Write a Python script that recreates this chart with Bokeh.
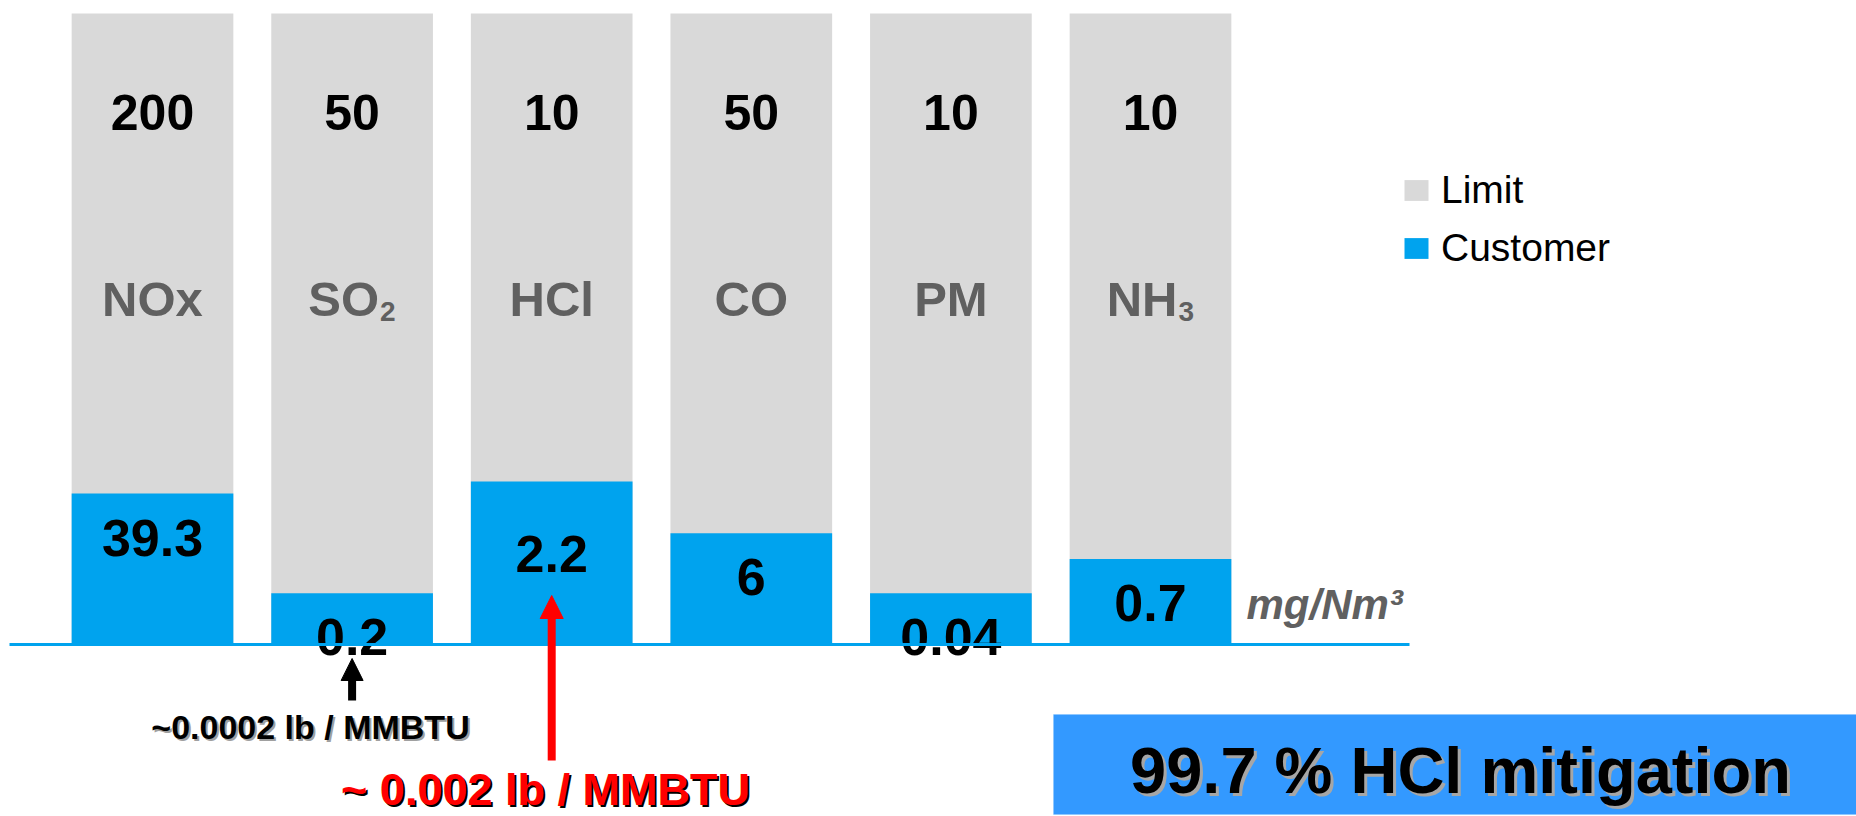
from bokeh.plotting import figure
from bokeh.models import (ColumnDataSource, Range1d, Legend, LegendItem, Label,
                          Arrow, NormalHead, BoxAnnotation)
from bokeh.core.properties import value
from bokeh.embed import file_html
from bokeh.resources import INLINE

# Emission limits and measured customer values, mg/Nm3
pollutants = ["NOx", "SO₂", "HCl", "CO", "PM", "NH₃"]
limit_values = [200, 50, 10, 50, 10, 10]
customer_values = [39.3, 0.2, 2.2, 6, 0.04, 0.7]

# Page geometry (pixels)
W, H = 1856, 816
BAR_BOTTOM_PX = 644          # baseline row
BAR_TOP_PX = 13              # top of the limit bars
FIRST_CENTER_PX = 152
PITCH_PX = 199.6
UNIT_PX = BAR_BOTTOM_PX - BAR_TOP_PX

# Customer blocks are drawn as a share of the limit; a floor keeps room
# for the value label on the smallest readings.
FLOOR, SPAN = 0.078, 0.82

FONT_NAME = "Liberation Sans"
FONT = value(FONT_NAME)
GREY = "#D9D9D9"
BLUE = "#00A3EE"
NAME_GREY = "#606060"

SUBSCRIPTS = {"₂": "2", "₃": "3"}


def px_x(px):
    return (px - FIRST_CENTER_PX) / PITCH_PX


def px_y(py):
    return (BAR_BOTTOM_PX - py) / UNIT_PX


def split_formula(name):
    """Split a trailing subscript digit off a formula such as 'SO₂'."""
    if name and name[-1] in SUBSCRIPTS:
        return name[:-1], SUBSCRIPTS[name[-1]]
    return name, ""


idx = list(range(len(pollutants)))
shares = [c / l for c, l in zip(customer_values, limit_values)]
src = ColumnDataSource(dict(
    x=idx,
    limit_top=[l / l for l in limit_values],
    cust_top=[FLOOR + SPAN * s for s in shares],
    limit_label=["{:g}".format(v) for v in limit_values],
    cust_label=["{:g}".format(v) for v in customer_values],
    cust_drop=[44, 44, 73, 44, 44, 44],
))

parts = [split_formula(n) for n in pollutants]
plain = ColumnDataSource(dict(
    x=[i for i, (m, s) in zip(idx, parts) if not s],
    top=[1.0 for m, s in parts if not s],
    name=[m for m, s in parts if not s],
))
formula = ColumnDataSource(dict(
    x=[i for i, (m, s) in zip(idx, parts) if s],
    top=[1.0 for m, s in parts if s],
    name=[m for m, s in parts if s],
    sub=[s for m, s in parts if s],
))

p = figure(width=W, height=H, output_backend="svg", toolbar_location=None,
           x_range=Range1d(px_x(0), px_x(W)),
           y_range=Range1d(px_y(H), px_y(0)),
           x_axis_location=None, y_axis_location=None,
           min_border=0, outline_line_color=None)
p.grid.visible = False

limit_r = p.vbar(x="x", width=0.81, bottom=0, top="limit_top", source=src,
                 fill_color=GREY, line_color=None)
cust_r = p.vbar(x="x", width=0.81, bottom=0, top="cust_top", source=src,
                fill_color=BLUE, line_color=None)

# limit values inside the grey bars
p.text(x="x", y="limit_top", text="limit_label", source=src, y_offset=99,
       text_align="center", text_baseline="alphabetic", text_font=FONT,
       text_font_style="bold", text_font_size="50px", text_color="black")

# pollutant names
name_style = dict(text_baseline="alphabetic", text_font=FONT, text_font_style="bold",
                  text_color=NAME_GREY)
p.text(x="x", y="top", text="name", source=plain, y_offset=285,
       text_align="center", text_font_size="49px", **name_style)
p.text(x="x", y="top", text="name", source=formula, y_offset=285, x_offset=27,
       text_align="right", text_font_size="49px", **name_style)
p.text(x="x", y="top", text="sub", source=formula, y_offset=298, x_offset=28,
       text_align="left", text_font_size="28px", **name_style)

# customer values inside the blue blocks
p.text(x="x", y="cust_top", text="cust_label", source=src, y_offset="cust_drop",
       text_align="center", text_baseline="alphabetic", text_font=FONT,
       text_font_style="bold", text_font_size="52px", text_color="black")

# baseline
p.segment(x0=px_x(9), y0=0, x1=px_x(1409), y1=0, line_color=BLUE, line_width=3)

legend = Legend(items=[LegendItem(label="Limit", renderers=[limit_r]),
                       LegendItem(label="Customer", renderers=[cust_r])],
                location=(1401, H - 270), orientation="vertical",
                glyph_width=30, glyph_height=26, label_standoff=10,
                label_text_font=FONT_NAME, label_text_font_size="39px",
                label_text_color="black", spacing=14, padding=0, margin=0,
                border_line_color=None, background_fill_alpha=0)
p.add_layout(legend)

p.add_layout(Label(x=1246, y=H - 627, x_units="screen", y_units="screen",
                   text="mg/Nm³", text_font=FONT_NAME, text_font_style="bold italic",
                   text_font_size="42px", text_color=NAME_GREY))

# conversions to lb/MMBTU
p.add_layout(Arrow(end=NormalHead(size=22, fill_color="black", line_color="black"),
                   x_start=1, y_start=px_y(700), x_end=1, y_end=px_y(658),
                   line_color="black", line_width=8))
p.add_layout(Label(x=312, y=H - 747, x_units="screen", y_units="screen",
                   text="~0.0002 lb / MMBTU", text_align="center", text_font=FONT_NAME,
                   text_font_style="bold", text_font_size="34px", text_color="#A0A0A0"))
p.add_layout(Label(x=310, y=H - 745, x_units="screen", y_units="screen",
                   text="~0.0002 lb / MMBTU", text_align="center", text_font=FONT_NAME,
                   text_font_style="bold", text_font_size="34px", text_color="black"))

p.add_layout(Arrow(end=NormalHead(size=23, fill_color="red", line_color="red"),
                   x_start=2, y_start=px_y(760), x_end=2, y_end=px_y(595),
                   line_color="red", line_width=8))
p.add_layout(Label(x=547, y=0, x_units="screen", y_units="screen",
                   text="~ 0.002 lb / MMBTU", text_align="center", text_font=FONT_NAME,
                   text_font_style="bold", text_font_size="45px", text_color="black"))
p.add_layout(Label(x=545, y=2, x_units="screen", y_units="screen",
                   text="~ 0.002 lb / MMBTU", text_align="center", text_font=FONT_NAME,
                   text_font_style="bold", text_font_size="45px", text_color="red"))

# headline callout
p.add_layout(BoxAnnotation(left=1053, right=W, bottom=H - 814, top=H - 714,
                           left_units="screen", right_units="screen",
                           bottom_units="screen", top_units="screen",
                           fill_color="#3399FF", fill_alpha=1, line_color="#7FBFFF",
                           line_width=1))
p.add_layout(Label(x=1463, y=H - 809, x_units="screen", y_units="screen",
                   text="99.7 % HCl mitigation", text_align="center", text_font=FONT_NAME,
                   text_font_style="bold", text_font_size="65px", text_color="#A6A6A6"))
p.add_layout(Label(x=1460, y=H - 806, x_units="screen", y_units="screen",
                   text="99.7 % HCl mitigation", text_align="center", text_font=FONT_NAME,
                   text_font_style="bold", text_font_size="65px", text_color="black"))

open("out.html", "w").write(file_html(p, INLINE))
